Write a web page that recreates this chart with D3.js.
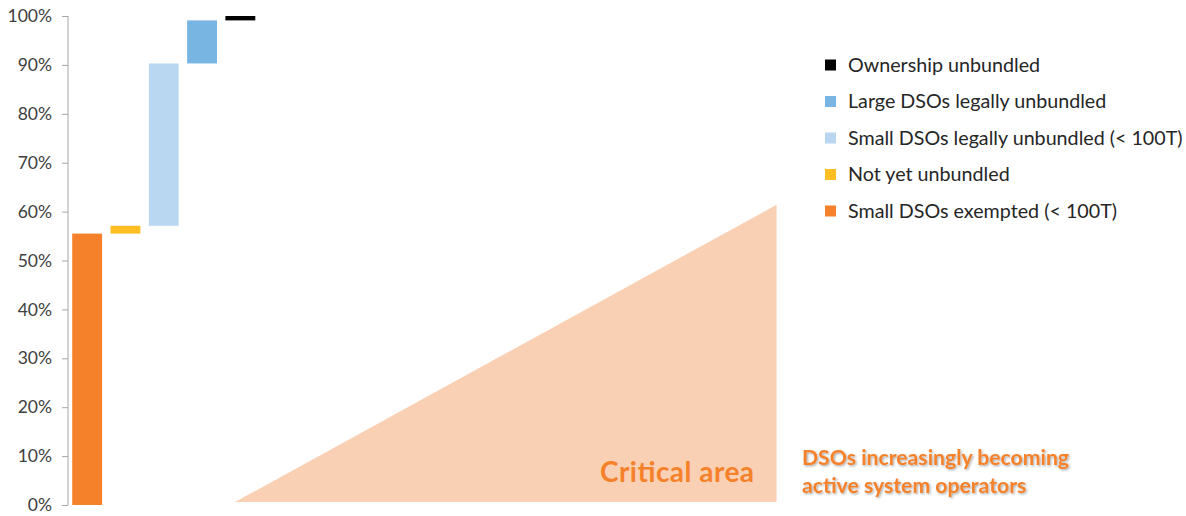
<!DOCTYPE html>
<html>
<head>
<meta charset="utf-8">
<title>DSO unbundling waterfall</title>
<script src="https://cdn.jsdelivr.net/npm/d3@7"></script>
<style>
  html, body { margin: 0; padding: 0; background: #fff; }
  svg { display: block; font-family: Lato, "Open Sans", sans-serif; }
</style>
</head>
<body>
<svg id="chart" width="1186" height="516"></svg>
<script>
  // waterfall steps, bottom to top (percent of DSOs)
  var categories = ["Small DSOs exempted (< 100T)", "Not yet unbundled",
                    "Small DSOs legally unbundled (< 100T)", "Large DSOs legally unbundled",
                    "Ownership unbundled"];
  var stepValues = [55.5, 1.6, 33.2, 8.8, 0.9];
  var colors     = ["#F5822A", "#FFBF22", "#B9D7F0", "#79B5E3", "#000000"];
  var yTicks     = [0, 10, 20, 30, 40, 50, 60, 70, 80, 90, 100];

  // critical area wedge, x in category slots, y in percent
  var areaPoints = [[4.36, 0.6], [18.5, 0.6], [18.5, 61.4]];

  var svg = d3.select("#chart");

  var y = d3.scaleLinear().domain([0, 100]).range([505, 16]);
  var x = d3.scaleBand().domain(categories).range([68, 259.5])
    .paddingInner(0.22).paddingOuter(0.11);
  var slot = d3.scaleLinear().domain([0, categories.length]).range([68, 259.5]);

  // running totals
  var rows = [], acc = 0;
  categories.forEach(function (c, i) {
    rows.push({ name: c, from: acc, to: acc + stepValues[i], color: colors[i] });
    acc += stepValues[i];
  });

  // wedge
  svg.append("path")
    .attr("d", d3.line().x(function (d) { return slot(d[0]); }).y(function (d) { return y(d[1]); })(areaPoints) + "Z")
    .attr("fill", "#FAD0B4");

  // axis
  var axis = svg.append("g").attr("transform", "translate(68,0)")
    .call(d3.axisLeft(y).tickValues(yTicks).tickSize(6).tickPadding(10)
      .tickFormat(function (d) { return d + "%"; }));
  axis.select(".domain").attr("stroke", "#A6A6A6").attr("d", "M0," + y(0) + "V" + y(100));
  axis.selectAll(".tick line").attr("stroke", "#A6A6A6");
  axis.selectAll(".tick text").attr("fill", "#404040")
    .style("font-size", "17.5px").style("font-family", "Lato, sans-serif");

  // bars
  svg.append("g").selectAll("rect").data(rows).enter().append("rect")
    .attr("x", function (d) { return x(d.name); })
    .attr("width", x.bandwidth())
    .attr("y", function (d) { return y(d.to); })
    .attr("height", function (d) { return Math.max(3, y(d.from) - y(d.to)); })
    .attr("fill", function (d) { return d.color; });

  // legend (top-down, reverse order)
  var leg = svg.append("g").attr("transform", "translate(825,65)");
  var items = leg.selectAll("g").data(rows.slice().reverse()).enter().append("g")
    .attr("transform", function (d, i) { return "translate(0," + (i * 36.5) + ")"; });
  items.append("rect").attr("x", 0).attr("y", -5.5).attr("width", 11).attr("height", 11)
    .attr("fill", function (d) { return d.color; });
  items.append("text").attr("x", 23).attr("dy", "0.35em")
    .attr("fill", "#262626").style("font-size", "19.7px")
    .text(function (d) { return d.name; });

  // annotations
  var shadow = svg.append("defs").append("filter").attr("id", "shadow")
    .attr("x", "-5%").attr("y", "-20%").attr("width", "120%").attr("height", "160%");
  shadow.append("feDropShadow").attr("dx", 1.2).attr("dy", 1.2).attr("stdDeviation", 0.9)
    .attr("flood-color", "#000").attr("flood-opacity", 0.35);

  svg.append("text").attr("x", 600).attr("y", 482)
    .attr("fill", "#F5822A").style("font-size", "28px").style("font-weight", "bold")
    .attr("textLength", 154).attr("lengthAdjust", "spacing")
    .text("Critical area");

  var note = svg.append("text").attr("fill", "#F5822A").attr("filter", "url(#shadow)")
    .style("font-size", "21.2px").style("font-weight", "bold");
  note.append("tspan").attr("x", 802).attr("y", 465).text("DSOs increasingly becoming");
  note.append("tspan").attr("x", 802).attr("y", 493).text("active system operators");
</script>
</body>
</html>
